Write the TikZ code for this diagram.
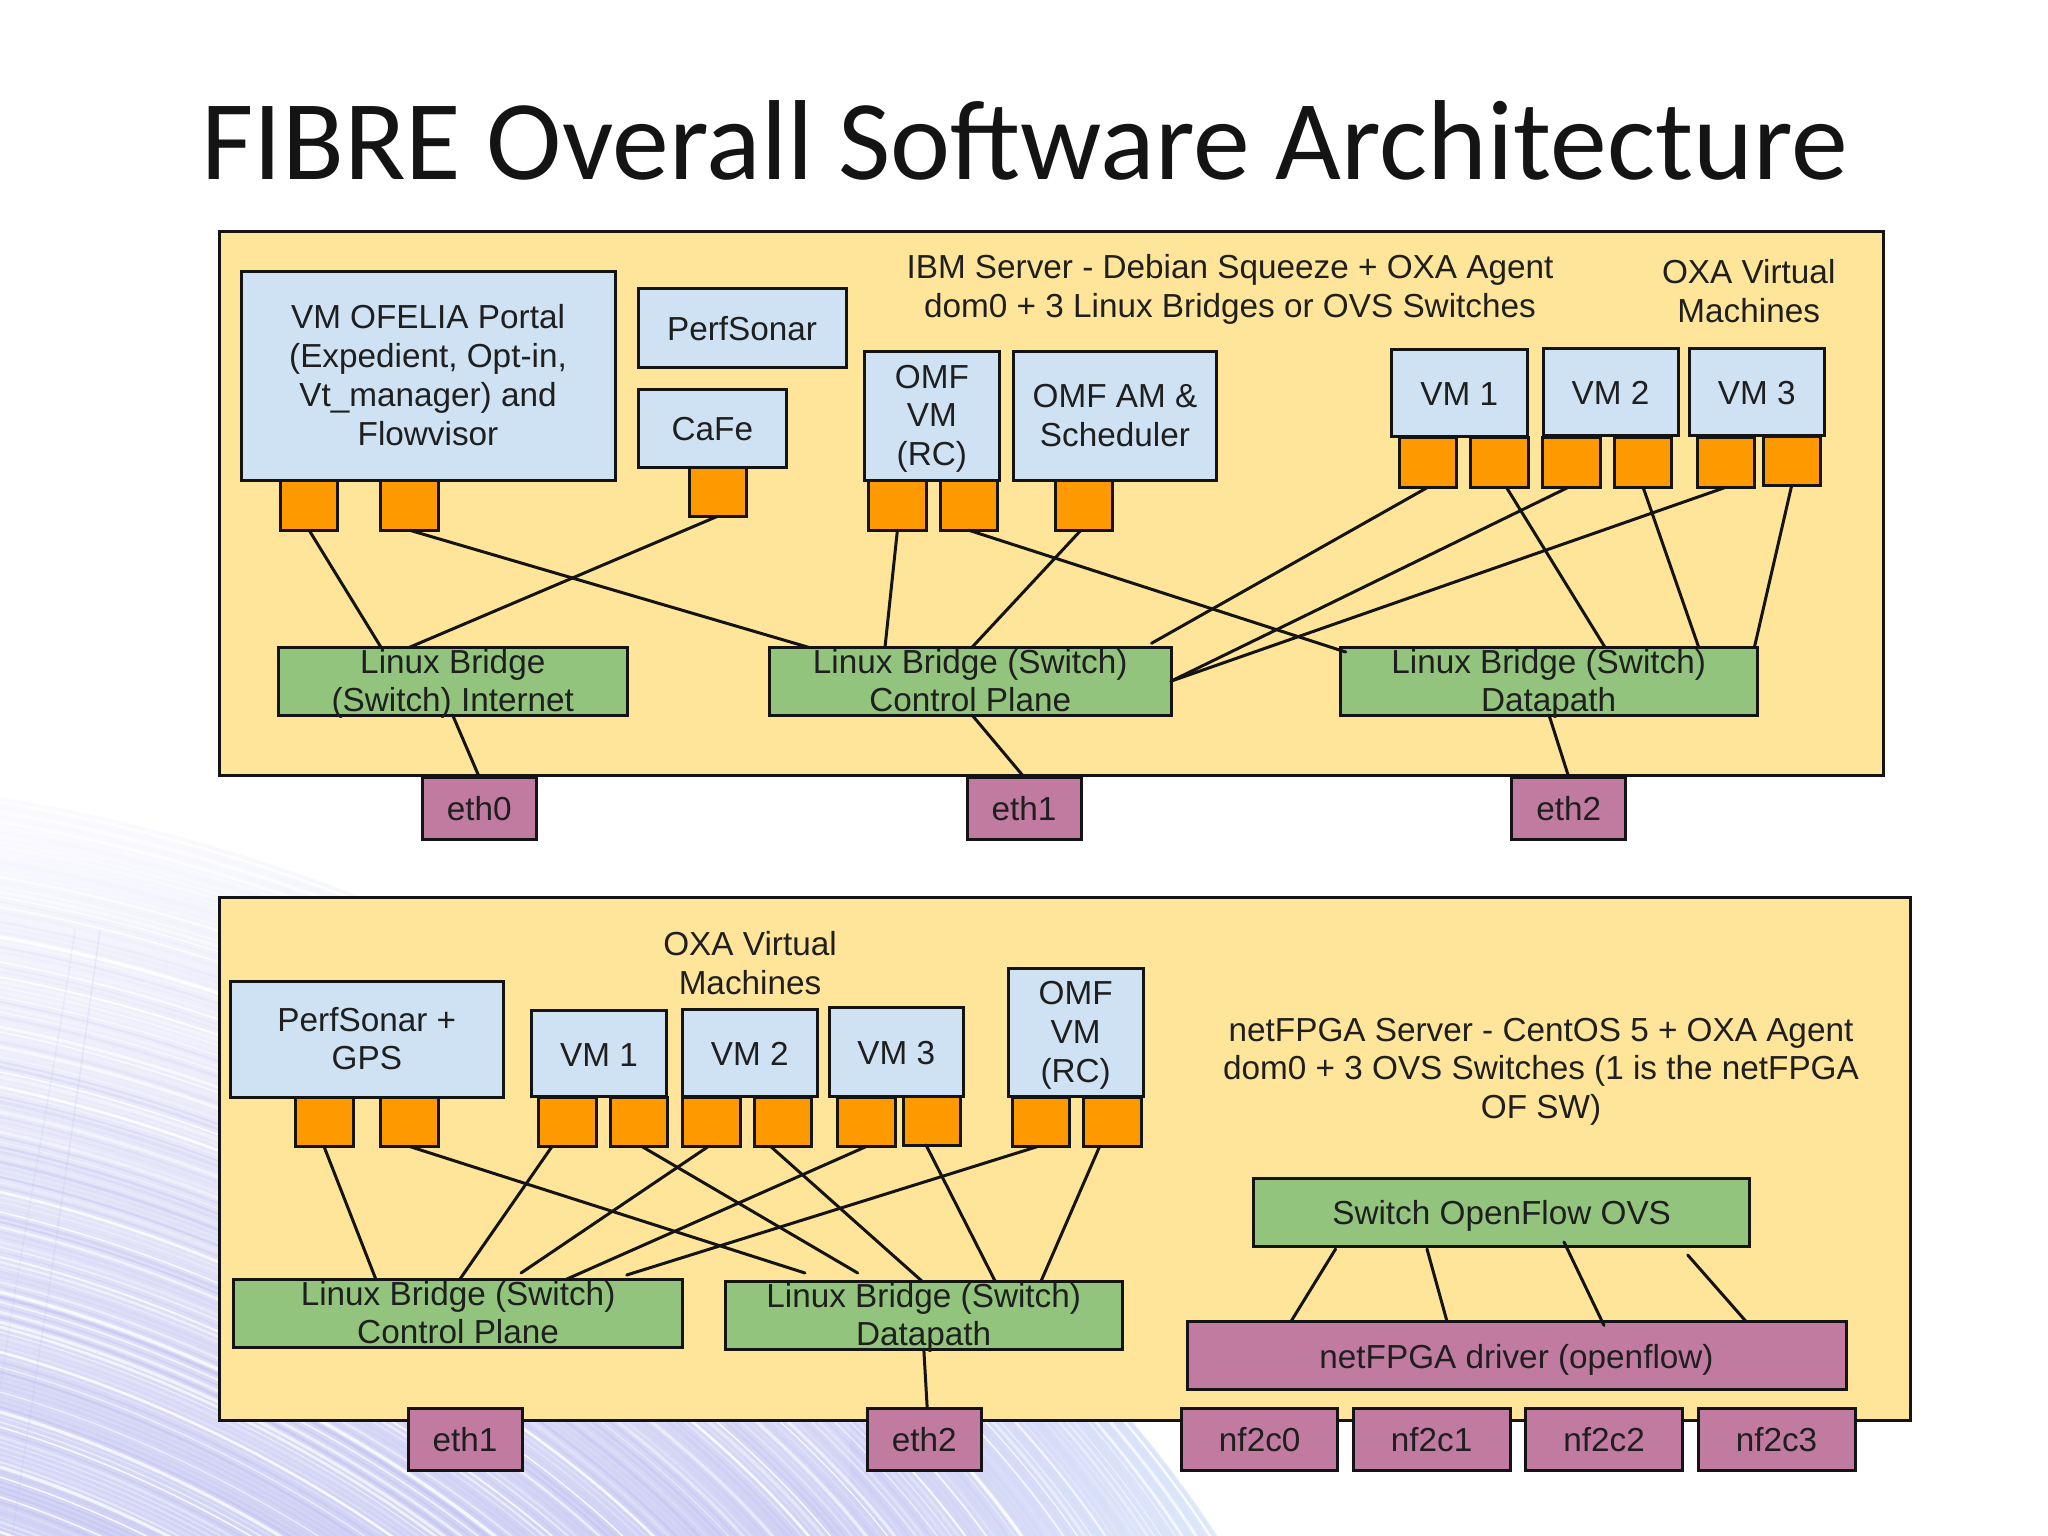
\documentclass[tikz,border=0pt]{standalone}
\usepackage{fontspec}
\setmainfont{Liberation Sans}
\newfontfamily\titlefont{Carlito}
\definecolor{panelY}{HTML}{FFE599}
\definecolor{vmB}{HTML}{CFE2F3}
\definecolor{brG}{HTML}{93C47D}
\definecolor{portO}{HTML}{FF9900}
\definecolor{ifP}{HTML}{C27BA0}
\definecolor{lav}{HTML}{B9B9EE}
\definecolor{lavtop}{HTML}{FBFBFF}
\definecolor{lavbot}{HTML}{D2D2F5}
\definecolor{skyb}{HTML}{DDE9FB}
\tikzset{
  boxbase/.style={draw=black!92,line width=3pt,inner sep=0pt,outer sep=0pt,rectangle},
  panel/.style={boxbase,fill=panelY},
  vmbox/.style={boxbase,fill=vmB},
  brbox/.style={boxbase,fill=brG},
  ifbox/.style={boxbase,fill=ifP},
  portbox/.style={boxbase,fill=portO},
  txt/.style={align=center,inner sep=0pt,text=black!88,font=\fontsize{33.3}{38.7}\selectfont,
    yshift=-5pt,execute at begin node=\strut,execute at end node=\strut},
  link/.style={draw=black!92,line width=3pt,line cap=round},
}
\newcommand{\rbox}[6]{% name, style, x1,y1,x2,y2
  \node[#2,minimum width={(#5-#3)*1pt},minimum height={(#6-#4)*1pt}] (#1) at ({(#3+#5)/2},{(#4+#6)/2}) {};}
\newcommand{\tbox}[7]{% name, style, x1,y1,x2,y2, text
  \rbox{#1}{#2}{#3}{#4}{#5}{#6}
  \node[txt] (#1t) at (#1.center) {#7};}
\begin{document}
\begin{tikzpicture}[x=1pt,y=-1pt]
\useasboundingbox (0,0) rectangle (2048,1536);
\fill[white] (0,0) rectangle (2048,1536);
% background swirl
\begin{scope}
  \clip (0,797) .. controls (500,880) and (1000,1200) .. (1217,1536) -- (0,1536) -- cycle;
  \shade[top color=lavtop,bottom color=lavbot] (0,797) rectangle (1300,1536);
  \shade[left color=lavbot,right color=skyb] (850,1300) rectangle (1230,1536);
  \pgfmathsetseed{42}
  \foreach \k in {0,5,...,900}{
    \pgfmathsetmacro{\op}{0.15+0.75*rnd}
    \pgfmathsetmacro{\wd}{0.8+2.6*rnd}
    \pgfmathsetmacro{\pick}{rnd}
    \pgfmathsetmacro{\fade}{min(1,\k/500)}
    \ifdim\pick pt<0.6pt
      \draw[white,line width=\wd pt,opacity=\op]
        (0,{797+\k}) .. controls ({500-0.35*\k},{880+\k}) and ({1000-0.8*\k},{1200+0.8*\k}) .. ({1217-1.2*\k},{1536+0.3*\k});
    \else
      \draw[lav,line width=\wd pt,opacity={\op*\fade*0.55}]
        (0,{797+\k}) .. controls ({500-0.35*\k},{880+\k}) and ({1000-0.8*\k},{1200+0.8*\k}) .. ({1217-1.2*\k},{1536+0.3*\k});
    \fi
  }
  \draw[lav,line width=1.5pt,opacity=.2] (100,930) .. controls (70,1150) and (40,1350) .. (12,1536);
  \draw[lav,line width=1.5pt,opacity=.15] (75,930) .. controls (50,1100) and (20,1250) .. (0,1390);
\end{scope}
% title
\node[anchor=base,inner sep=0pt,font=\titlefont\fontsize{113.7}{130}\selectfont,text=black!92] (title) at (1024.5,179.5) {FIBRE Overall Software Architecture};
% === IBM server ===
\rbox{srvA}{panel}{219.4}{231.5}{1883.5}{775}
\node[txt] (ibmT) at (1230,287) {IBM Server - Debian Squeeze + OXA Agent\\dom0 + 3 Linux Bridges or OVS Switches};
\node[txt] (oxaA) at (1748.7,292) {OXA Virtual\\Machines};
\tbox{portal}{vmbox}{241}{271}{615}{480.4}{VM OFELIA Portal\\(Expedient, Opt-in,\\Vt\_manager) and\\Flowvisor}
\tbox{psA}{vmbox}{638}{288.6}{846}{367}{PerfSonar}
\tbox{cafe}{vmbox}{638}{389}{786.7}{467}{CaFe}
\tbox{omfA}{vmbox}{864}{351.4}{999.7}{480.4}{OMF\\VM\\(RC)}
\tbox{omfam}{vmbox}{1013.4}{351.4}{1216.5}{480.4}{OMF AM \&\\Scheduler}
\tbox{vmAa}{vmbox}{1391.6}{349.8}{1527}{436.3}{VM 1}
\tbox{vmAb}{vmbox}{1543}{348}{1678}{435.5}{VM 2}
\tbox{vmAc}{vmbox}{1689}{348}{1824.5}{435.5}{VM 3}
\rbox{pa}{portbox}{280.4}{480.4}{337.8}{530.2}
\rbox{pb}{portbox}{380.8}{480.4}{438.2}{530.2}
\rbox{pc}{portbox}{689}{467}{746}{516.3}
\rbox{pd}{portbox}{868.8}{480.4}{926}{530.2}
\rbox{pe}{portbox}{940}{480.4}{997.4}{530.2}
\rbox{pf}{portbox}{1055.3}{480.4}{1112.6}{530.2}
\rbox{pg}{portbox}{1399}{437.6}{1456.5}{487.3}
\rbox{ph}{portbox}{1470.8}{437.6}{1528}{487.3}
\rbox{pi}{portbox}{1542.6}{437.6}{1600}{487.3}
\rbox{pj}{portbox}{1614.4}{437.6}{1671.8}{487.3}
\rbox{pk}{portbox}{1697}{437.6}{1754.4}{487.3}
\rbox{pl}{portbox}{1763}{436.3}{1820.4}{485.3}
\tbox{giA}{brbox}{278.6}{647.3}{627}{715}{Linux Bridge\\(Switch) Internet}
\tbox{gcA}{brbox}{769.5}{647.3}{1171}{715}{Linux Bridge (Switch)\\Control Plane}
\tbox{gdA}{brbox}{1340}{647.3}{1757.3}{715}{Linux Bridge (Switch)\\Datapath}
\tbox{ethA}{ifbox}{422}{777}{536.4}{839}{eth0}
\tbox{ethB}{ifbox}{967}{777}{1081}{839}{eth1}
\tbox{ethC}{ifbox}{1511.6}{777}{1625.8}{839}{eth2}
\draw[link] (pa.south) -- ([xshift=102.4pt]giA.north west);
\draw[link] (pc.south) -- ([xshift=130.9pt]giA.north west);
\draw[link] (pb.south) -- ([xshift=39pt]gcA.north west);
\draw[link] (pd.south) -- ([xshift=115.5pt]gcA.north west);
\draw[link] ([xshift=-3pt]pf.south) -- ([xshift=202.5pt]gcA.north west);
\draw[link] (pe.south) -- ([xshift=5.7pt,yshift=-4.7pt]gdA.north west);
\draw[link] (pg.south) -- ([xshift=382pt,yshift=4pt]gcA.north west);
\draw[link] ([xshift=-3pt]pi.south) -- (gcA.east);
\draw[link] (pk.south) -- (gcA.east);
\draw[link] ([xshift=7pt]ph.south) -- ([xshift=265pt]gdA.north west);
\draw[link] (pj.south) -- ([xshift=358.7pt]gdA.north west);
\draw[link] (pl.south) -- ([xshift=414.4pt]gdA.north west);
\draw[link] ([xshift=174pt]giA.south west) -- (ethA.north);
\draw[link] ([xshift=202.5pt]gcA.south west) -- (ethB.north);
\draw[link] ([xshift=209pt]gdA.south west) -- (ethC.north);
% === netFPGA server ===
\rbox{srvB}{panel}{219.6}{897.6}{1910.6}{1420.6}
\node[txt] (oxaB) at (750,964) {OXA Virtual\\Machines};
\node[txt] (nfT) at (1541,1069) {netFPGA Server - CentOS 5 + OXA Agent\\dom0 + 3 OVS Switches (1 is the netFPGA\\OF SW)};
\tbox{psB}{vmbox}{230.6}{981}{503}{1097.6}{PerfSonar +\\GPS}
\tbox{vmBa}{vmbox}{531.3}{1010}{666.6}{1096.7}{VM 1}
\tbox{vmBb}{vmbox}{682.5}{1009}{817}{1096}{VM 2}
\tbox{vmBc}{vmbox}{829}{1007.6}{963.6}{1096}{VM 3}
\tbox{omfB}{vmbox}{1008.3}{968.3}{1143}{1096.7}{OMF\\VM\\(RC)}
\rbox{qa}{portbox}{295}{1097.6}{353}{1146.5}
\rbox{qb}{portbox}{380.6}{1097.6}{438.8}{1146.5}
\rbox{qc}{portbox}{538.6}{1097.6}{596}{1146.5}
\rbox{qd}{portbox}{610}{1097.6}{667.8}{1146.5}
\rbox{qe}{portbox}{682.5}{1097.6}{740}{1146.5}
\rbox{qf}{portbox}{754}{1097.6}{811}{1146.5}
\rbox{qg}{portbox}{837.5}{1097.6}{895}{1146.5}
\rbox{qh}{portbox}{903}{1096}{960}{1145}
\rbox{qi}{portbox}{1012.6}{1097.6}{1069.6}{1146.5}
\rbox{qj}{portbox}{1083.6}{1097.6}{1141}{1146.5}
\tbox{gcB}{brbox}{233.7}{1279.6}{682.5}{1347}{Linux Bridge (Switch)\\Control Plane}
\tbox{gdB}{brbox}{725.4}{1281.7}{1122}{1349}{Linux Bridge (Switch)\\Datapath}
\tbox{ethD}{ifbox}{408}{1408}{522}{1470}{eth1}
\tbox{ethE}{ifbox}{867}{1408}{981.4}{1470}{eth2}
\tbox{ovs}{brbox}{1253.7}{1178}{1749.6}{1246}{Switch OpenFlow OVS}
\tbox{drv}{ifbox}{1187}{1321.4}{1846}{1389.6}{netFPGA driver (openflow)}
\tbox{nfa}{ifbox}{1181.5}{1408}{1337.9}{1470}{nf2c0}
\tbox{nfb}{ifbox}{1353.3}{1408}{1510}{1470}{nf2c1}
\tbox{nfc}{ifbox}{1525.7}{1408}{1682.6}{1470}{nf2c2}
\tbox{nfd}{ifbox}{1698}{1408}{1855}{1470}{nf2c3}
\draw[link] (qa.south) -- ([xshift=142.3pt]gcB.north west);
\draw[link] (qb.south) -- ([xshift=79.6pt,yshift=8.7pt]gdB.north west);
\draw[link] ([xshift=-15.3pt]qc.south) -- ([xshift=225.9pt]gcB.north west);
\draw[link] ([xshift=3pt]qd.south) -- ([xshift=132.3pt,yshift=8.7pt]gdB.north west);
\draw[link] ([xshift=-3pt]qe.south) -- ([xshift=287.3pt,yshift=6.6pt]gcB.north west);
\draw[link] ([xshift=-11.8pt]qf.south) -- ([xshift=197.2pt]gdB.north west);
\draw[link] (qg.south) -- ([xshift=331.9pt]gcB.north west);
\draw[link] ([xshift=-5.5pt]qh.south) -- ([xshift=270pt]gdB.north west);
\draw[link] ([xshift=-3.4pt]qi.south) -- ([xshift=393pt,yshift=4.6pt]gcB.north west);
\draw[link] ([xshift=-12.7pt]qj.south) -- ([xshift=315.4pt]gdB.north west);
\draw[link] ([xshift=198.4pt]gdB.south west) -- ([xshift=3pt]ethE.north);
\draw[link] ([xshift=81.9pt,yshift=-3pt]ovs.south west) -- ([xshift=104pt]drv.north west);
\draw[link] ([xshift=173.3pt,yshift=-3pt]ovs.south west) -- ([xshift=260pt]drv.north west);
\draw[link] ([xshift=310.3pt,yshift=4pt]ovs.south west) -- ([xshift=417pt,yshift=-4pt]drv.north west);
\draw[link] ([xshift=434pt,yshift=-9pt]ovs.south west) -- ([xshift=559pt]drv.north west);
\end{tikzpicture}
\end{document}
